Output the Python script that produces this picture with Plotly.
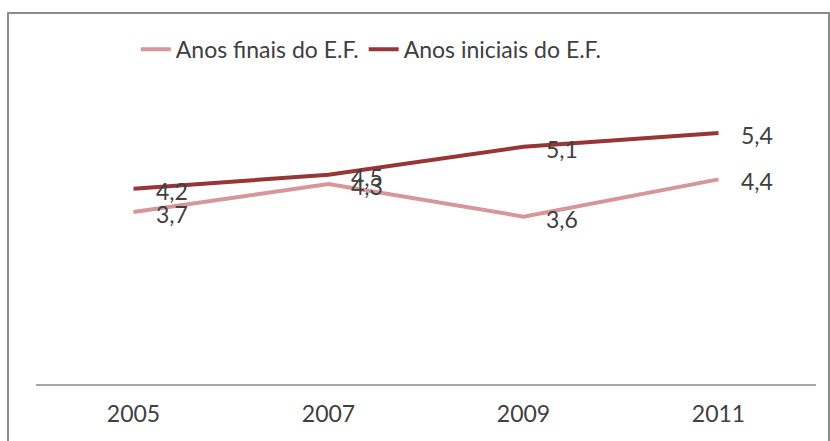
import plotly.graph_objects as go

# IDEB results by school stage
anos = ["2005", "2007", "2009", "2011"]
anos_finais = [3.7, 4.3, 3.6, 4.4]
anos_iniciais = [4.2, 4.5, 5.1, 5.4]

nome_finais = "Anos finais do E.F."
nome_iniciais = "Anos iniciais do E.F."

cor_finais = "#d6969a"
cor_iniciais = "#983537"
cor_texto = "#404040"
fonte = "Lato"

fig = go.Figure()
fig.add_trace(go.Scatter(x=anos, y=anos_finais, name=nome_finais, mode="lines",
                         line=dict(color=cor_finais, width=4)))
fig.add_trace(go.Scatter(x=anos, y=anos_iniciais, name=nome_iniciais, mode="lines",
                         line=dict(color=cor_iniciais, width=4)))


def rotulo(v):
    return f"{v:.1f}".replace(".", ",")


# value labels to the right of each point (x given as category index)
anotacoes = []
for serie in (anos_finais, anos_iniciais):
    for i, v in enumerate(serie):
        anotacoes.append(dict(x=i, y=v, xref="x", yref="y", text=rotulo(v),
                              showarrow=False, xanchor="left", yanchor="middle",
                              xshift=20, yshift=-2,
                              font=dict(family=fonte, size=23, color=cor_texto)))

fig.update_layout(
    width=830, height=441,
    margin=dict(l=36, r=14, t=105, b=57),
    paper_bgcolor="white", plot_bgcolor="white",
    font=dict(family=fonte, size=23, color=cor_texto),
    showlegend=True,
    legend=dict(orientation="h", x=0.128, xanchor="left", y=1.20, yanchor="middle",
                font=dict(family=fonte, size=23, color=cor_texto),
                bgcolor="rgba(0,0,0,0)", traceorder="normal"),
    xaxis=dict(type="category", range=[-0.5, 3.5], showgrid=False, zeroline=False,
               showline=True, linecolor="#a6a6a6", linewidth=2, ticks="",
               ticklabelstandoff=8,
               tickfont=dict(family=fonte, size=23, color=cor_texto)),
    yaxis=dict(range=[0, 6], visible=False, showgrid=False, zeroline=False),
    annotations=anotacoes,
    shapes=[dict(type="rect", xref="paper", yref="paper",
                 x0=-0.0359, x1=1.0167, y0=-0.35, y1=1.3297,
                 line=dict(color="#8c8c8c", width=2), fillcolor="rgba(0,0,0,0)",
                 layer="below")],
)

fig.write_html("out.html")
